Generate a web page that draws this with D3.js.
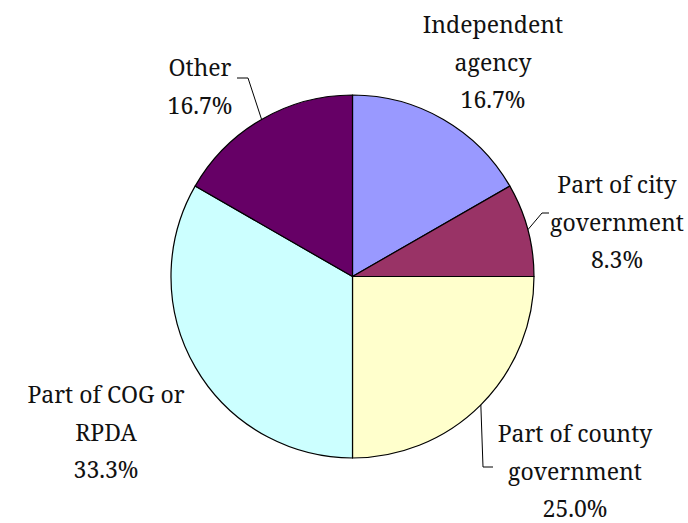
<!DOCTYPE html>
<html>
<head>
<meta charset="utf-8">
<script src="https://cdn.jsdelivr.net/npm/d3@7"></script>
<style>
  body { margin: 0; background: #fff; }
</style>
</head>
<body>
<svg id="svg" width="688" height="523"></svg>
<script>

// chart data
var categories = ["Independent agency", "Part of city government", "Part of county government", "Part of COG or RPDA", "Other"];
var values = [16.7, 8.3, 25.0, 33.3, 16.7];
var valueLabels = ["16.7%", "8.3%", "25.0%", "33.3%", "16.7%"];
var labelLines = [
	["Independent", "agency", "16.7%"],
	["Part of city", "government", "8.3%"],
	["Part of county", "government", "25.0%"],
	["Part of COG or", "RPDA", "33.3%"],
	["Other", "16.7%"]
];
var fillColors = ["#9999ff", "#993366", "#ffffcc", "#ccffff", "#660066"];

// layout
var cx = 352.5, cy = 276.5, radius = 181.5;
var lineHeight = 37.5;
var fontFamily = "'Noto Serif', 'FreeSerif', Tinos, Times, 'Times New Roman', 'Liberation Serif', 'DejaVu Serif', Georgia, serif";

// label anchor (center x, first baseline) and leader elbow / end, relative to page
var labelPos = [
	{ x: 493, y: 33 },
	{ x: 617, y: 193, leader: [[542, 213], [549, 213]] },
	{ x: 575, y: 442, leader: [[483, 467], [493, 467]] },
	{ x: 106, y: 403 },
	{ x: 200, y: 76, leader: [[248, 78], [237, 78]] }
];

var svg = d3.select("#svg");
var g = svg.append("g").attr("transform", "translate(" + cx + "," + cy + ")");

var pie = d3.pie().sort(null).value(function(d){ return d; });
var arcs = pie(values);
var arc = d3.arc().innerRadius(0).outerRadius(radius);

g.selectAll("path.slice")
	.data(arcs)
	.enter().append("path")
	.attr("class", "slice")
	.attr("d", arc)
	.attr("fill", function(d, i){ return fillColors[i]; })
	.attr("stroke", "#000")
	.attr("stroke-width", 1.2)
	.attr("stroke-linejoin", "round");

// leader lines start on the rim at the slice mid angle
arcs.forEach(function(d, i) {
	var lp = labelPos[i];
	if (!lp.leader) return;
	var mid = (d.startAngle + d.endAngle) / 2;
	var sx = cx + Math.sin(mid) * radius;
	var sy = cy - Math.cos(mid) * radius;
	var pts = [[sx, sy]].concat(lp.leader);
	svg.append("path")
		.attr("d", d3.line()(pts))
		.attr("fill", "none")
		.attr("stroke", "#000")
		.attr("stroke-width", 1);
});

// labels
labelLines.forEach(function(lines, i) {
	var lp = labelPos[i];
	var t = svg.append("text")
		.attr("text-anchor", "middle")
		.attr("font-family", fontFamily)
		.attr("font-size", 23)
		.attr("fill", "#111");
	lines.forEach(function(s, k) {
		t.append("tspan")
			.attr("x", lp.x)
			.attr("y", lp.y + k * lineHeight)
			.text(s);
	});
});

</script>
</body>
</html>
